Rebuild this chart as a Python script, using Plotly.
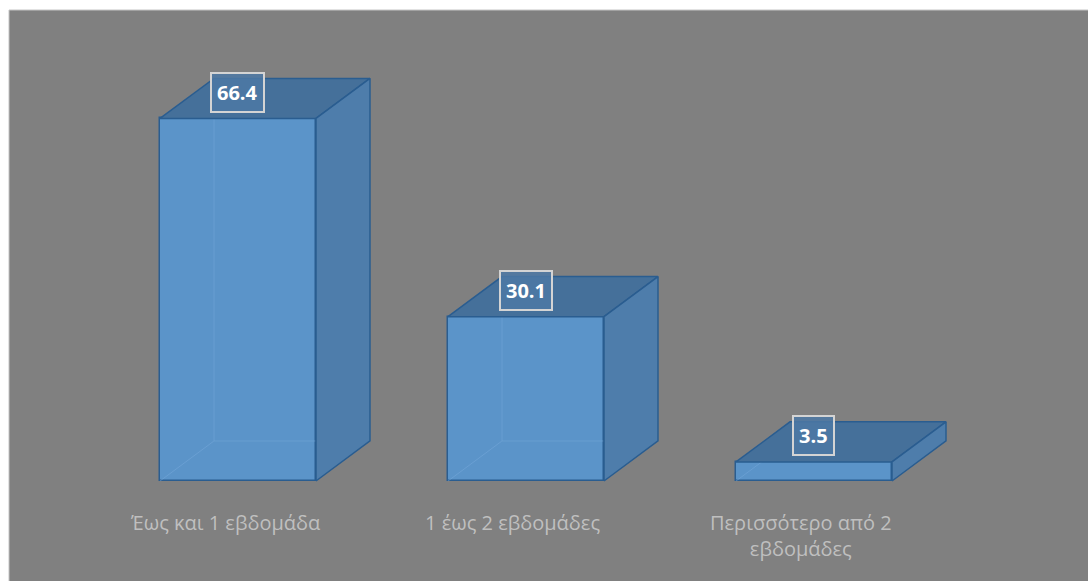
import plotly.graph_objects as go

# Duration categories and their shares (%)
categories = ["Έως και 1 εβδομάδα", "1 έως 2 εβδομάδες", "Περισσότερο από 2<br>εβδομάδες"]
values = [66.4, 30.1, 3.5]
value_labels = ["66.4", "30.1", "3.5"]

# Box geometry (in axis units)
positions = list(range(len(values)))
bar_w = 0.5417          # front face width
depth_x = 0.1875        # oblique depth offset along x
depth_y = 7.33          # oblique depth offset along y

FRONT = "#5b94c9"
TOP = "#45709a"
SIDE = "#4e7dab"
EDGE = "#2a5d90"
GHOST = "rgba(120,170,220,0.5)"
BG = "#808080"

fig = go.Figure()

# Front faces of the boxes
fig.add_trace(go.Bar(
    x=positions, y=values, width=bar_w,
    marker=dict(color=FRONT, line=dict(color=EDGE, width=1.5)),
    hoverinfo="skip", showlegend=False,
))

for x, v in zip(positions, values):
    l, r = x - bar_w / 2, x + bar_w / 2
    # hidden back edges, faintly visible through the front face
    fig.add_trace(go.Scatter(
        x=[l, l + depth_x, r + depth_x, None, l + depth_x, l + depth_x],
        y=[0, depth_y, depth_y, None, depth_y, v + depth_y],
        mode="lines", line=dict(color=GHOST, width=1),
        hoverinfo="skip", showlegend=False,
    ))
    # top face
    fig.add_trace(go.Scatter(
        x=[l, r, r + depth_x, l + depth_x, l],
        y=[v, v, v + depth_y, v + depth_y, v],
        mode="lines", fill="toself", fillcolor=TOP,
        line=dict(color=EDGE, width=1.5),
        hoverinfo="skip", showlegend=False,
    ))
    # right side face
    fig.add_trace(go.Scatter(
        x=[r, r, r + depth_x, r + depth_x, r],
        y=[0, v, v + depth_y, depth_y, 0],
        mode="lines", fill="toself", fillcolor=SIDE,
        line=dict(color=EDGE, width=1.5),
        hoverinfo="skip", showlegend=False,
    ))

# Value labels in framed boxes
for x, v, t in zip(positions, values, value_labels):
    fig.add_annotation(
        x=x, y=v, text=f"<b>{t}</b>", showarrow=False,
        yshift=26,
        font=dict(family="Open Sans", size=20, color="white"),
        bgcolor="rgba(76,120,164,0.85)", bordercolor="#d4d4d4",
        borderwidth=2, borderpad=5,
    )

# Category labels under the boxes
for x, c in zip(positions, categories):
    fig.add_annotation(
        x=x, y=0, text=c, showarrow=False,
        yanchor="top", yshift=-26, xshift=-13,
        font=dict(family="Open Sans", size=20, color="#bfbfbf"),
    )

# thin light edge along the top and left of the grey area
fig.add_shape(type="line", xref="paper", yref="paper", x0=0, y0=1, x1=1, y1=1,
              line=dict(color="#c4c4c4", width=1), layer="above")
fig.add_shape(type="line", xref="paper", yref="paper", x0=0, y0=0, x1=0, y1=1,
              line=dict(color="#c4c4c4", width=1), layer="above")

fig.update_layout(
    width=1088, height=581,
    margin=dict(l=9, r=0, t=10, b=0),
    paper_bgcolor="white", plot_bgcolor=BG,
    xaxis=dict(range=[-0.7951, 2.9514], visible=False, fixedrange=True),
    yaxis=dict(range=[-18.315, 86.26], visible=False, fixedrange=True),
    bargap=0,
)

fig.write_html("out.html")
